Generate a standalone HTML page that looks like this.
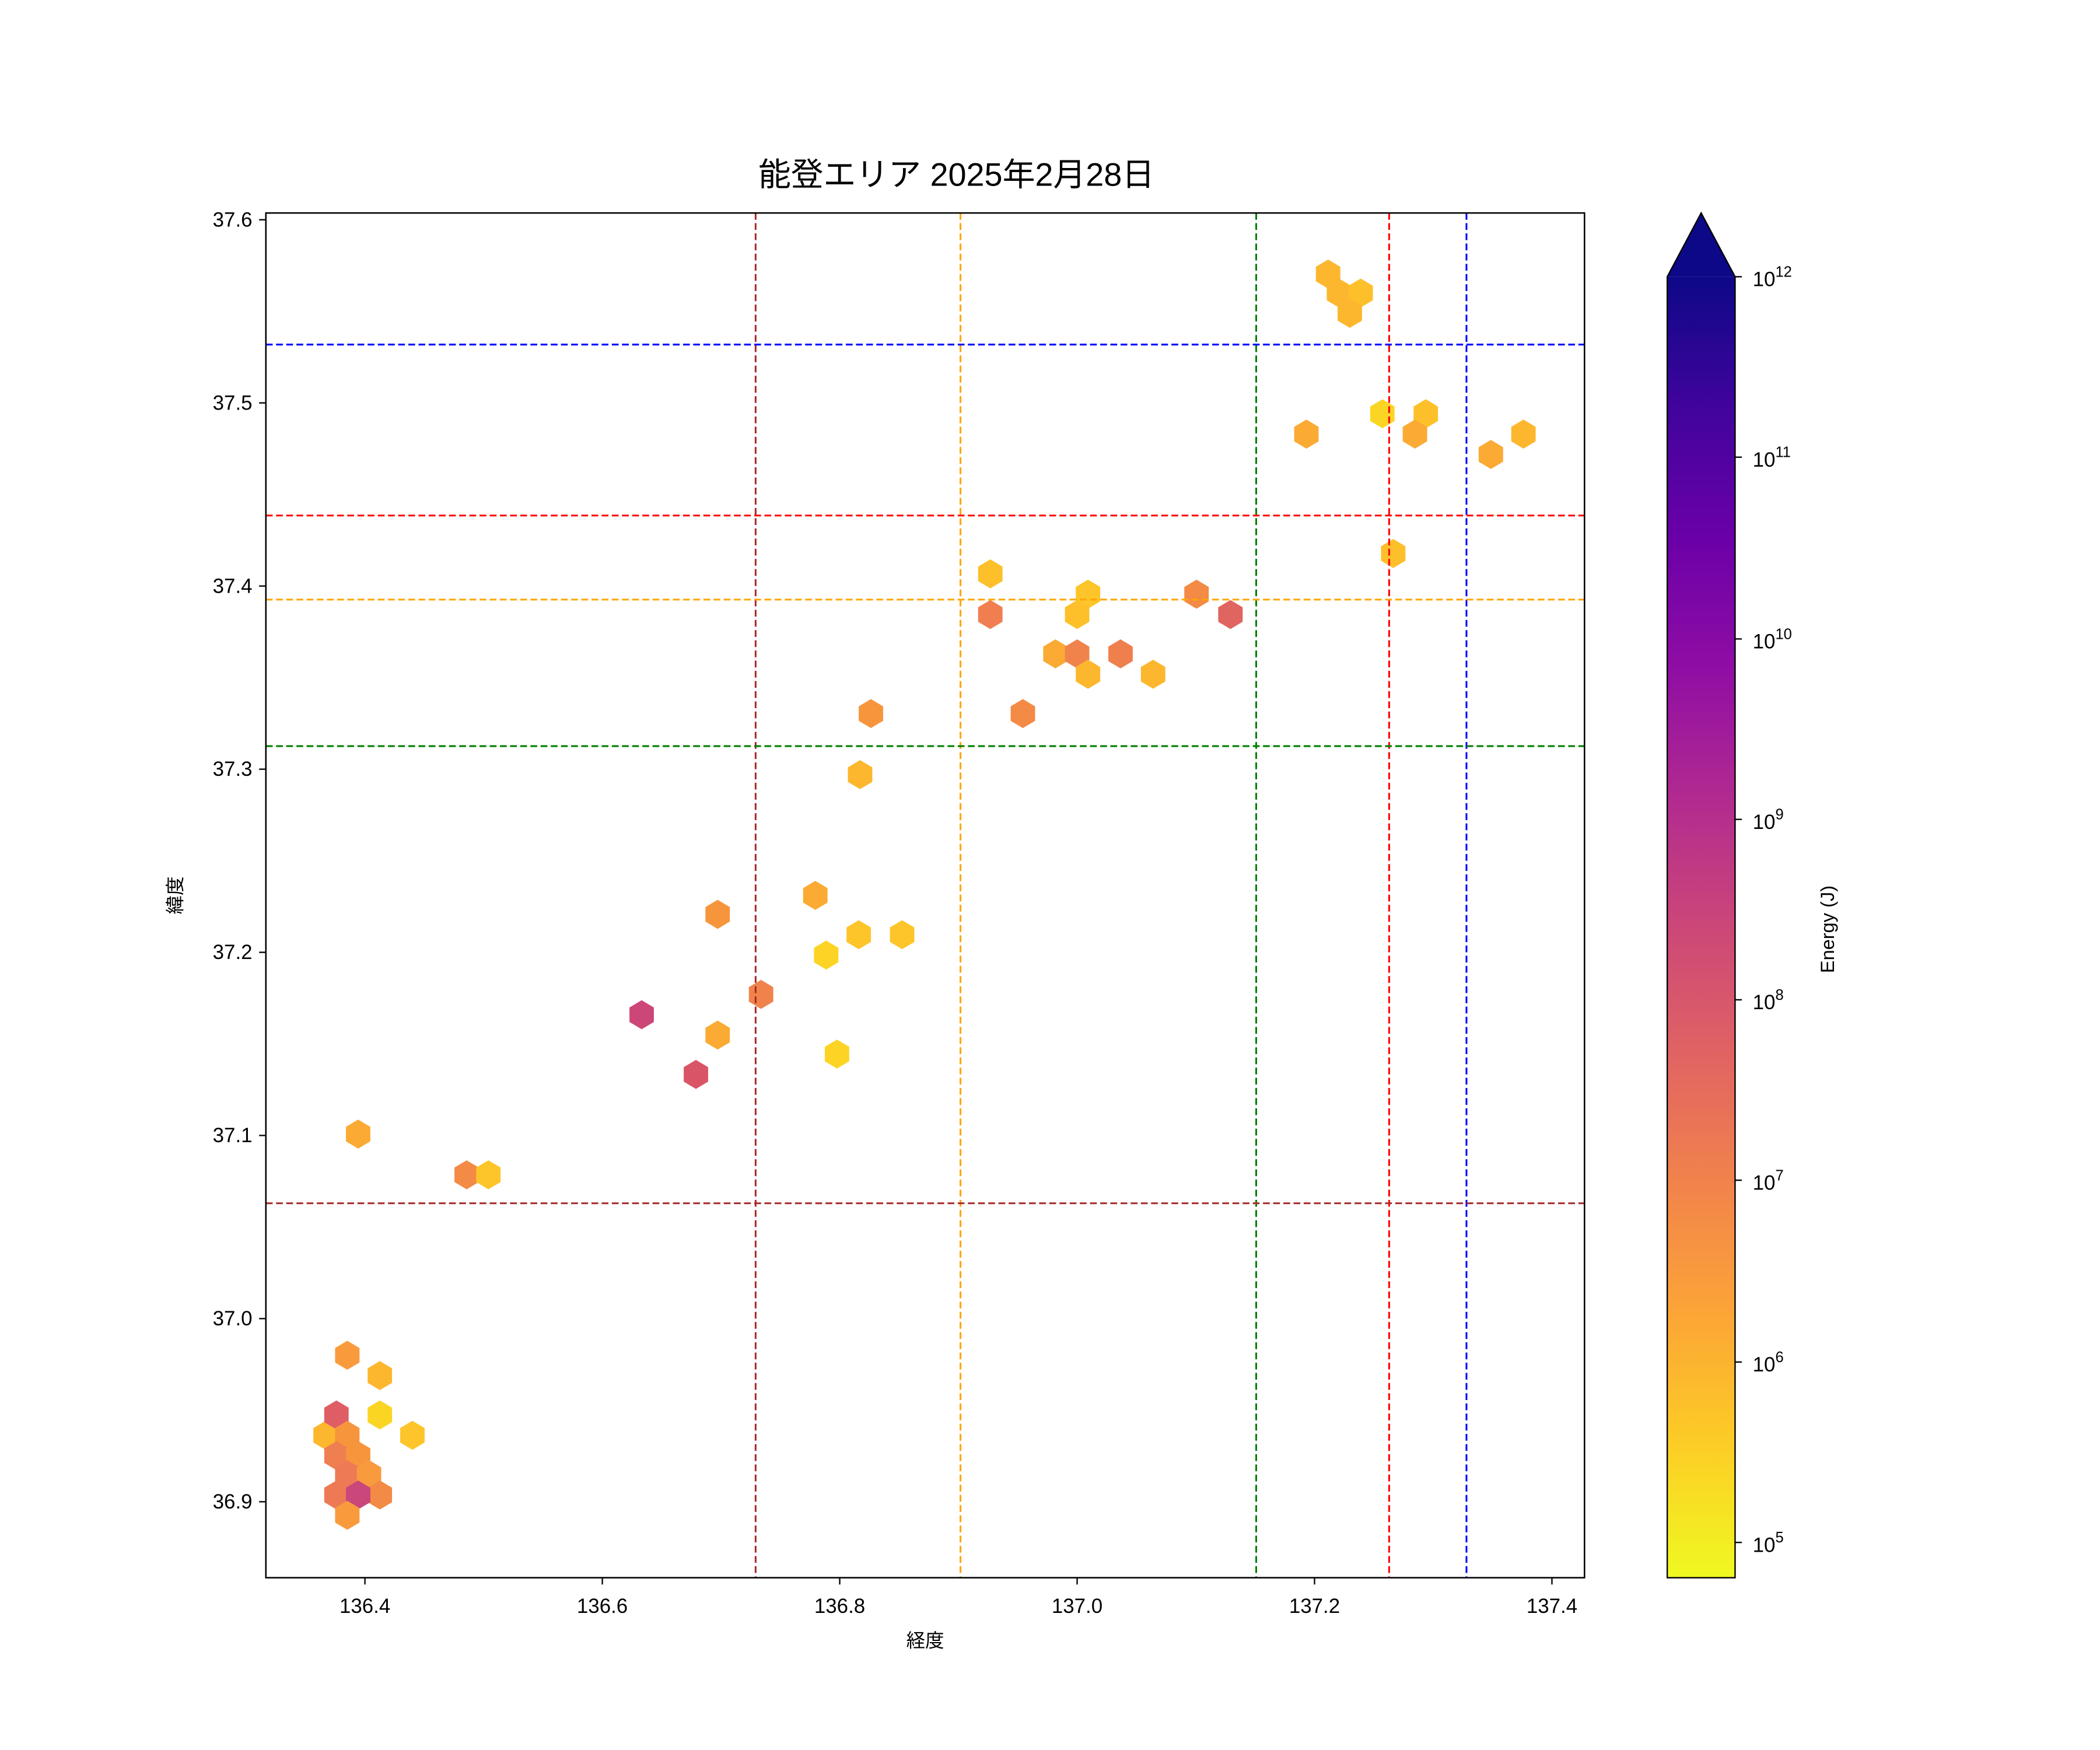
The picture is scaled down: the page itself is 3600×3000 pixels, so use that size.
<!DOCTYPE html>
<html><head><meta charset="utf-8"><style>html,body{margin:0;padding:0;background:#fff}svg{display:block}</style></head><body>
<svg width="3600" height="3000" viewBox="0 0 1548 1290" xmlns="http://www.w3.org/2000/svg" font-family="'Liberation Sans','Noto Sans CJK JP',sans-serif">
<defs>
<linearGradient id="pl" x1="0" y1="1" x2="0" y2="0">
<stop offset="0" stop-color="#f0f921"/><stop offset="0.1" stop-color="#fcce25"/><stop offset="0.2" stop-color="#fca636"/><stop offset="0.3" stop-color="#f2844b"/><stop offset="0.4" stop-color="#e16462"/><stop offset="0.5" stop-color="#cc4778"/><stop offset="0.6" stop-color="#b12a90"/><stop offset="0.7" stop-color="#8f0da4"/><stop offset="0.8" stop-color="#6a00a8"/><stop offset="0.9" stop-color="#41049d"/><stop offset="1" stop-color="#0d0887"/>
</linearGradient>
<polygon id="h" points="0,-10.7 9,-5.35 9,5.35 0,10.7 -9,5.35 -9,-5.35"/>
</defs>
<rect width="1548" height="1290" fill="#fff"/>
<text x="705" y="137" font-size="24" text-anchor="middle">能登エリア 2025年2月28日</text>
<g>
<use href="#h" x="979" y="202" fill="#fdb72e"/><use href="#h" x="987" y="216" fill="#fdb72e"/><use href="#h" x="1003" y="216" fill="#fdbf2a"/><use href="#h" x="995" y="231" fill="#fdb72e"/>
<use href="#h" x="963" y="320" fill="#fbaa33"/><use href="#h" x="1019" y="305" fill="#fbd524"/><use href="#h" x="1051" y="305" fill="#fdc02a"/><use href="#h" x="1043" y="320" fill="#fbaa33"/>
<use href="#h" x="1099" y="335" fill="#fbaa33"/><use href="#h" x="1123" y="320" fill="#fdb72e"/><use href="#h" x="1027" y="408" fill="#fdbf2a"/>
<use href="#h" x="730" y="423" fill="#fdbf2a"/><use href="#h" x="802" y="438" fill="#fdc52a"/><use href="#h" x="794" y="453" fill="#fdc02a"/><use href="#h" x="730" y="453" fill="#f07e50"/>
<use href="#h" x="882" y="438" fill="#f38a45"/><use href="#h" x="907" y="453" fill="#e0645f"/><use href="#h" x="778" y="482" fill="#fbaa33"/><use href="#h" x="794" y="482" fill="#f0834b"/>
<use href="#h" x="826" y="482" fill="#ef7f4d"/><use href="#h" x="802" y="497" fill="#fdb72e"/><use href="#h" x="850" y="497" fill="#fdb72e"/><use href="#h" x="642" y="526" fill="#f7953d"/>
<use href="#h" x="754" y="526" fill="#f38a45"/><use href="#h" x="634" y="571" fill="#fdb72e"/><use href="#h" x="601" y="660" fill="#fbaa33"/><use href="#h" x="529" y="674" fill="#f7953d"/>
<use href="#h" x="633" y="689" fill="#fdc52a"/><use href="#h" x="665" y="689" fill="#fdc52a"/><use href="#h" x="609" y="704" fill="#fdd425"/><use href="#h" x="561" y="733" fill="#f0834b"/>
<use href="#h" x="473" y="748" fill="#cc4778"/><use href="#h" x="529" y="763" fill="#fbaa33"/><use href="#h" x="513" y="792" fill="#d95566"/><use href="#h" x="617" y="777" fill="#fdd425"/>
<use href="#h" x="264" y="836" fill="#fbaa33"/><use href="#h" x="344" y="866" fill="#f38a45"/><use href="#h" x="360" y="866" fill="#fdc52a"/>
<use href="#h" x="256" y="999" fill="#f99b3d"/><use href="#h" x="280" y="1014" fill="#fdb72e"/><use href="#h" x="280" y="1043" fill="#fbd524"/><use href="#h" x="304" y="1058" fill="#fdc52a"/>
<use href="#h" x="240" y="1058" fill="#fdb72e"/><use href="#h" x="248" y="1043" fill="#df5e66"/><use href="#h" x="256" y="1058" fill="#f7953d"/><use href="#h" x="248" y="1073" fill="#ef7f50"/>
<use href="#h" x="264" y="1073" fill="#f7953d"/><use href="#h" x="256" y="1087" fill="#ed7a55"/><use href="#h" x="272" y="1087" fill="#f99b3d"/><use href="#h" x="248" y="1102" fill="#ed7a55"/>
<use href="#h" x="280" y="1102" fill="#f38a45"/><use href="#h" x="264" y="1102" fill="#c9477a"/><use href="#h" x="256" y="1117" fill="#f99b3d"/>
</g>
<g stroke-width="1.3" stroke-dasharray="5,2.5" fill="none">
<line x1="557" y1="157" x2="557" y2="1163" stroke="#a52a2a"/>
<line x1="708" y1="157" x2="708" y2="1163" stroke="#ffa500"/>
<line x1="926" y1="157" x2="926" y2="1163" stroke="#008000"/>
<line x1="1024" y1="157" x2="1024" y2="1163" stroke="#ff0000"/>
<line x1="1081" y1="157" x2="1081" y2="1163" stroke="#0000ff"/>
<line x1="196" y1="254" x2="1168" y2="254" stroke="#0000ff"/>
<line x1="196" y1="380" x2="1168" y2="380" stroke="#ff0000"/>
<line x1="196" y1="442" x2="1168" y2="442" stroke="#ffa500"/>
<line x1="196" y1="550" x2="1168" y2="550" stroke="#008000"/>
<line x1="196" y1="887" x2="1168" y2="887" stroke="#a52a2a"/>
</g>
<rect x="196" y="157" width="972" height="1006" fill="none" stroke="#000" stroke-width="1.1"/>
<g stroke="#000" stroke-width="1">
<line x1="269" y1="1163" x2="269" y2="1168"/><line x1="444" y1="1163" x2="444" y2="1168"/><line x1="619" y1="1163" x2="619" y2="1168"/><line x1="794" y1="1163" x2="794" y2="1168"/><line x1="969" y1="1163" x2="969" y2="1168"/><line x1="1144" y1="1163" x2="1144" y2="1168"/>
<line x1="191" y1="162" x2="196" y2="162"/><line x1="191" y1="297" x2="196" y2="297"/><line x1="191" y1="432" x2="196" y2="432"/><line x1="191" y1="567" x2="196" y2="567"/><line x1="191" y1="702" x2="196" y2="702"/><line x1="191" y1="837" x2="196" y2="837"/><line x1="191" y1="972" x2="196" y2="972"/><line x1="191" y1="1107" x2="196" y2="1107"/>
</g>
<g font-size="15" text-anchor="middle">
<text x="269" y="1189">136.4</text><text x="444" y="1189">136.6</text><text x="619" y="1189">136.8</text><text x="794" y="1189">137.0</text><text x="969" y="1189">137.2</text><text x="1144" y="1189">137.4</text>
</g>
<g font-size="15" text-anchor="end">
<text x="186" y="167">37.6</text><text x="186" y="302">37.5</text><text x="186" y="437">37.4</text><text x="186" y="572">37.3</text><text x="186" y="707">37.2</text><text x="186" y="842">37.1</text><text x="186" y="977">37.0</text><text x="186" y="1112">36.9</text>
</g>
<text x="682" y="1214" font-size="14" text-anchor="middle">経度</text>
<text transform="translate(134,660) rotate(-90)" font-size="14" text-anchor="middle">緯度</text>
<rect x="1229" y="204" width="50" height="959" fill="url(#pl)"/>
<polygon points="1229,204 1254,157 1279,204" fill="#0d0887"/>
<polygon points="1229,1163 1229,204 1254,157 1279,204 1279,1163" fill="none" stroke="#000" stroke-width="1"/>
<g stroke="#000" stroke-width="1">
<line x1="1279" y1="204" x2="1284" y2="204"/><line x1="1279" y1="337" x2="1284" y2="337"/><line x1="1279" y1="471" x2="1284" y2="471"/><line x1="1279" y1="604" x2="1284" y2="604"/><line x1="1279" y1="737" x2="1284" y2="737"/><line x1="1279" y1="870" x2="1284" y2="870"/><line x1="1279" y1="1004" x2="1284" y2="1004"/><line x1="1279" y1="1137" x2="1284" y2="1137"/>
</g>
<g font-size="15">
<text x="1292" y="211">10<tspan font-size="11" dy="-7">12</tspan></text>
<text x="1292" y="344">10<tspan font-size="11" dy="-7">11</tspan></text>
<text x="1292" y="478">10<tspan font-size="11" dy="-7">10</tspan></text>
<text x="1292" y="611">10<tspan font-size="11" dy="-7">9</tspan></text>
<text x="1292" y="744">10<tspan font-size="11" dy="-7">8</tspan></text>
<text x="1292" y="877">10<tspan font-size="11" dy="-7">7</tspan></text>
<text x="1292" y="1011">10<tspan font-size="11" dy="-7">6</tspan></text>
<text x="1292" y="1144">10<tspan font-size="11" dy="-7">5</tspan></text>
</g>
<text transform="translate(1352,685) rotate(-90)" font-size="14" text-anchor="middle">Energy (J)</text>
</svg>
</body></html>
